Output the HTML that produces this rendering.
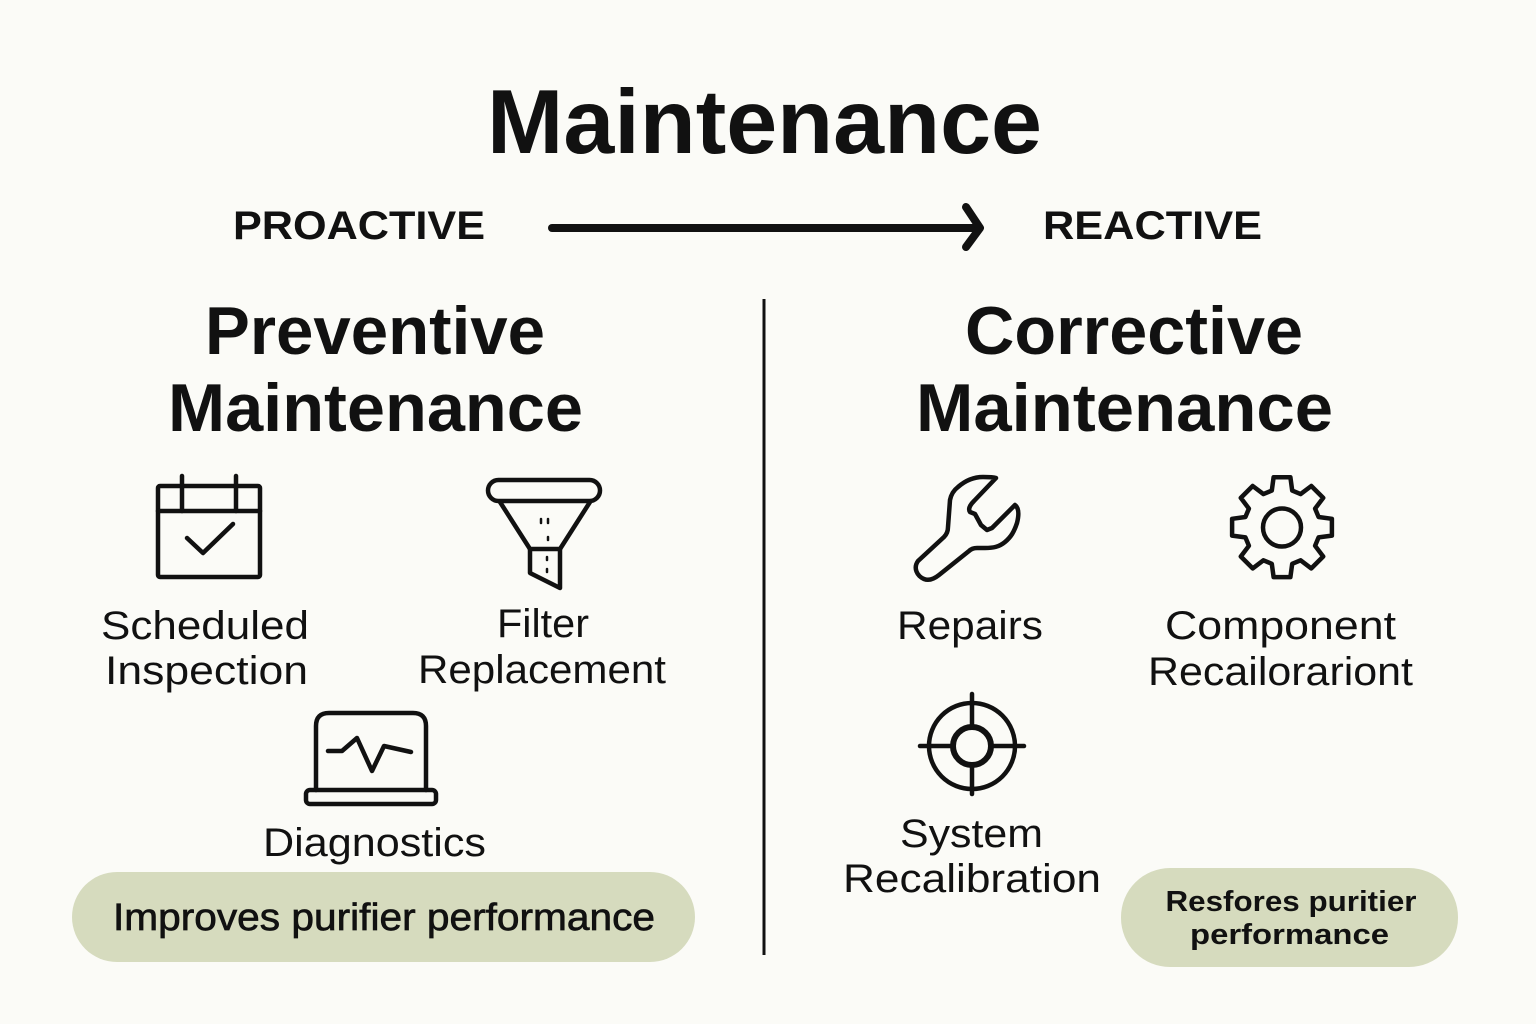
<!DOCTYPE html>
<html><head><meta charset="utf-8"><style>
html,body{margin:0;padding:0;background:#fbfbf7;}
svg{display:block;}
text{font-family:"Liberation Sans",Arial,sans-serif;fill:#111;}
.b{font-weight:bold;}
</style></head><body>
<svg width="1536" height="1024" viewBox="0 0 1536 1024" xmlns="http://www.w3.org/2000/svg">
<rect width="1536" height="1024" fill="#fbfbf7"/>

<!-- Title -->
<text class="b" x="764.5" y="153" font-size="91" text-anchor="middle" textLength="555" lengthAdjust="spacingAndGlyphs">Maintenance</text>

<!-- Proactive / Reactive -->
<text class="b" x="359" y="239" font-size="40" text-anchor="middle" textLength="252" lengthAdjust="spacingAndGlyphs">PROACTIVE</text>
<text class="b" x="1152.5" y="239" font-size="40" text-anchor="middle" textLength="219" lengthAdjust="spacingAndGlyphs">REACTIVE</text>
<line x1="552" y1="228" x2="975" y2="228" stroke="#111" stroke-width="8" stroke-linecap="round"/>
<polyline points="966,207 980,228 966,247" fill="none" stroke="#111" stroke-width="8" stroke-linecap="round" stroke-linejoin="round"/>

<!-- Divider -->
<line x1="764" y1="299" x2="764" y2="955" stroke="#111" stroke-width="3"/>

<!-- Section headings -->
<text class="b" x="375" y="354" font-size="68" text-anchor="middle" textLength="340" lengthAdjust="spacingAndGlyphs">Preventive</text>
<text class="b" x="375.5" y="431" font-size="68" text-anchor="middle" textLength="415" lengthAdjust="spacingAndGlyphs">Maintenance</text>
<text class="b" x="1134" y="354" font-size="68" text-anchor="middle" textLength="338" lengthAdjust="spacingAndGlyphs">Corrective</text>
<text class="b" x="1124.5" y="431" font-size="68" text-anchor="middle" textLength="417" lengthAdjust="spacingAndGlyphs">Maintenance</text>

<g fill="none" stroke="#111" stroke-width="4.5" stroke-linecap="round" stroke-linejoin="round">
  <!-- Calendar -->
  <rect x="158" y="486" width="102" height="91" rx="2"/>
  <line x1="158" y1="511" x2="260" y2="511"/>
  <line x1="182" y1="476" x2="182" y2="511"/>
  <line x1="236" y1="476" x2="236" y2="511"/>
  <polyline points="187,538 203,553 233,524"/>

  <!-- Funnel -->
  <rect x="488" y="480" width="112" height="21" rx="10.5"/>
  <polyline points="500,502 530,549 560,549 590,502"/>
  <polyline points="530,549 530,573 560,588 560,549"/>

  <!-- Diagnostics -->
  <path d="M316,790 L316,726 Q316,713 329,713 L413,713 Q426,713 426,726 L426,790"/>
  <rect x="306" y="790" width="130" height="14" rx="4"/>
  <polyline points="328,751 342,751 357,738 372,771 384,746 411,752"/>

  <!-- Wrench -->
  <path d="M958,487 C966,480 975,477 983,477 C988,477 993,477 996,478 L974,501 C970,505 968,509 970,512 L975,514 L981,525 L987,530 L992,528 L1015,505 C1019,508 1019,515 1017,523 C1014,532 1011,537 1005,542 C999,547 993,548 985,548 L977,548 C973,548 971,549 969,551 L939,575 C934,579 929,581 924,579 C917,576 913,568 918,561 L944,537 C947,534 948,531 948,527 L950,500 C951,495 954,490 958,487 Z"/>

  <!-- Gear -->
  <path d="M1273.6,477.3 L1290.4,477.3 L1292.2,490.6 L1300.6,494.1 L1311.3,486 L1323.2,497.9 L1315.1,508.6 L1318.6,517 L1331.9,518.8 L1331.9,535.6 L1318.6,537.4 L1315.1,545.8 L1323.2,556.5 L1311.3,568.4 L1300.6,560.3 L1292.2,563.8 L1290.4,577.1 L1273.6,577.1 L1271.8,563.8 L1263.4,560.3 L1252.7,568.4 L1240.8,556.5 L1248.9,545.8 L1245.4,537.4 L1232.1,535.6 L1232.1,518.8 L1245.4,517 L1248.9,508.6 L1240.8,497.9 L1252.7,486 L1263.4,494.1 L1271.8,490.6 Z"/>
  <circle cx="1282" cy="527.5" r="19"/>

  <!-- Target -->
  <circle cx="972" cy="746" r="43"/>
  <circle cx="972" cy="746" r="19" stroke-width="6"/>
  <line x1="972" y1="694" x2="972" y2="727"/>
  <line x1="972" y1="765" x2="972" y2="794"/>
  <line x1="920" y1="746" x2="953" y2="746"/>
  <line x1="991" y1="746" x2="1024" y2="746"/>
</g>
<!-- funnel drips -->
<g stroke="#111" stroke-width="2.5" stroke-linecap="round">
  <line x1="541" y1="519" x2="541" y2="523"/>
  <line x1="548" y1="519" x2="548" y2="523"/>
  <line x1="548" y1="537" x2="548" y2="540"/>
  <line x1="547" y1="557" x2="547" y2="560"/>
  <line x1="547" y1="569" x2="547" y2="572"/>
</g>

<!-- Labels -->
<g font-size="40">
  <text x="205" y="639" text-anchor="middle" textLength="208" lengthAdjust="spacingAndGlyphs">Scheduled</text>
  <text x="206.5" y="684" text-anchor="middle" textLength="203" lengthAdjust="spacingAndGlyphs">Inspection</text>
  <text x="543" y="637" text-anchor="middle" textLength="92" lengthAdjust="spacingAndGlyphs">Filter</text>
  <text x="542" y="683" text-anchor="middle" textLength="248" lengthAdjust="spacingAndGlyphs">Replacement</text>
  <text x="374.5" y="856" text-anchor="middle" textLength="223" lengthAdjust="spacingAndGlyphs">Diagnostics</text>
  <text x="970" y="639" text-anchor="middle" textLength="146" lengthAdjust="spacingAndGlyphs">Repairs</text>
  <text x="1280.5" y="639" text-anchor="middle" textLength="231" lengthAdjust="spacingAndGlyphs">Component</text>
  <text x="1280.5" y="685" text-anchor="middle" textLength="265" lengthAdjust="spacingAndGlyphs">Recailorariont</text>
  <text x="971.5" y="847" text-anchor="middle" textLength="143" lengthAdjust="spacingAndGlyphs">System</text>
  <text x="972" y="892" text-anchor="middle" textLength="258" lengthAdjust="spacingAndGlyphs">Recalibration</text>
</g>

<!-- Pills -->
<rect x="72" y="872" width="623" height="90" rx="45" fill="#d6dbbe"/>
<text x="384" y="930" font-size="38" text-anchor="middle" stroke="#111" stroke-width="0.7" textLength="542" lengthAdjust="spacingAndGlyphs">Improves purifier performance</text>

<rect x="1121" y="868" width="337" height="99" rx="49" fill="#d6dbbe"/>
<text class="b" x="1291" y="911" font-size="29" text-anchor="middle" textLength="251" lengthAdjust="spacingAndGlyphs">Resfores puritier</text>
<text class="b" x="1289.5" y="944" font-size="29" text-anchor="middle" textLength="199" lengthAdjust="spacingAndGlyphs">performance</text>
</svg>
</body></html>
